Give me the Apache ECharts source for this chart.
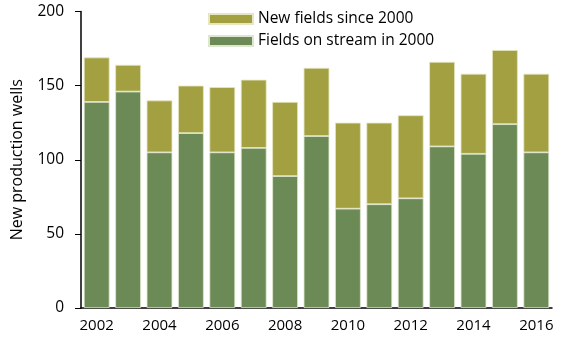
<!DOCTYPE html>
<html><head><meta charset="utf-8">
<script src="https://cdn.jsdelivr.net/npm/echarts@6/dist/echarts.min.js"></script>
<style>html,body{margin:0;padding:0;background:#fff}#c{width:566px;height:339px}</style>
</head><body><div id="c"></div>
<script>
const years = ['2002','2003','2004','2005','2006','2007','2008','2009','2010','2011','2012','2013','2014','2015','2016'];
const onStream2000 = [139,146,105,118,105,108,89,116,67,70,74,109,104,124,105];
const newSince2000 = [30,18,35,32,44,46,50,46,58,55,56,57,54,50,53];
const yTicks = [0,50,100,150,200];
const font = 'Open Sans';
const chart = echarts.init(document.getElementById('c'));
chart.setOption({
  animation:false,
  textStyle:{fontFamily:font},
  grid:{left:81,right:14,top:11.5,bottom:31},
  legend:{
    orient:'vertical', left:208, top:11, padding:0, itemWidth:44, itemHeight:10, itemGap:6, icon:'rect',
    textStyle:{fontSize:15.5,color:'#000',fontFamily:font},
    data:['New fields since 2000','Fields on stream in 2000']
  },
  xAxis:{type:'category',data:years,
    axisLine:{lineStyle:{color:'#000',width:1.5}},
    axisTick:{show:false},
    axisLabel:{interval:1,fontSize:15,color:'#000',margin:10,fontFamily:font}},
  yAxis:{type:'value',min:yTicks[0],max:yTicks[yTicks.length-1],interval:50,
    name:'New production wells',nameLocation:'middle',nameGap:56,
    nameTextStyle:{fontSize:16,color:'#000',fontFamily:font},
    axisLine:{show:true,lineStyle:{color:'#000',width:1.5}},
    axisTick:{show:true,length:6,lineStyle:{color:'#000'}},
    splitLine:{show:false},
    axisLabel:{fontSize:15.5,color:'#000',margin:17,fontFamily:font}},
  series:[
    {name:'Fields on stream in 2000',type:'bar',stack:'a',data:onStream2000,barCategoryGap:'18%',
      itemStyle:{color:'#6b8a56',borderColor:'#dfe6cf',borderWidth:0.8}},
    {name:'New fields since 2000',type:'bar',stack:'a',data:newSince2000,
      itemStyle:{color:'#a2a041',borderColor:'#e6e6c2',borderWidth:0.8}}
  ]
});
</script></body></html>
